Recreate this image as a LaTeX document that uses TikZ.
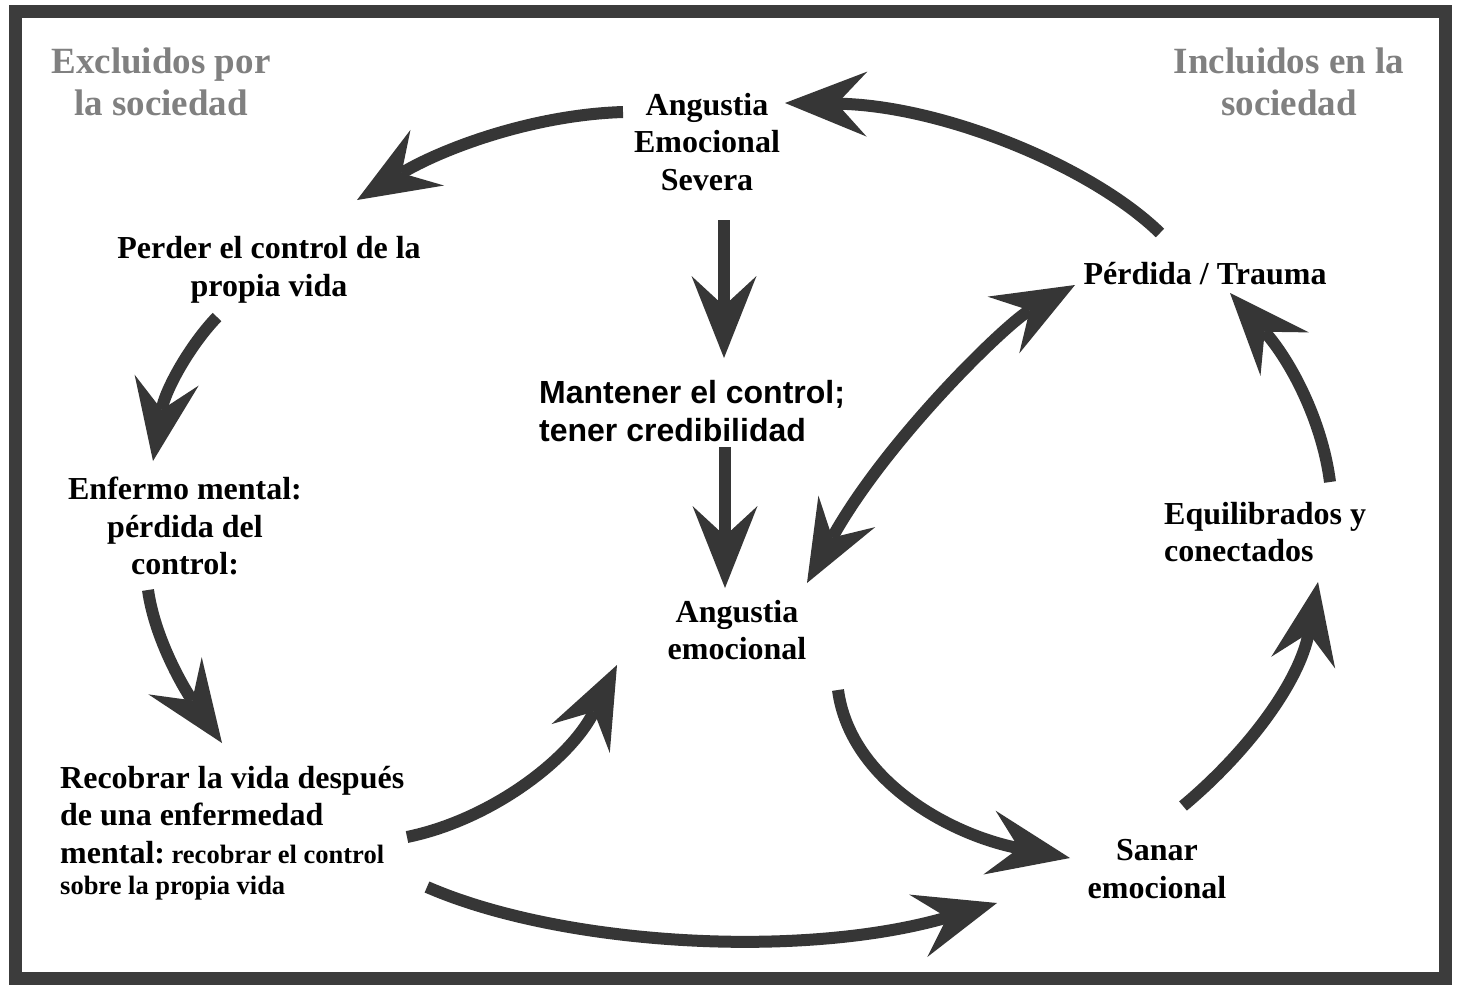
\documentclass[tikz,border=0pt]{standalone}
\usepackage{fontspec}
\setmainfont{Liberation Serif}
\newfontfamily\arialfont{Liberation Sans}
\usetikzlibrary{arrows.meta}
\definecolor{ink}{HTML}{363636}
\definecolor{framecol}{HTML}{3C3C3C}
\definecolor{soc}{HTML}{808080}
\tikzset{
  lbl/.style={font=\fontsize{32}{37.5}\selectfont\bfseries, inner sep=0pt, align=center, text=black},
  soclbl/.style={font=\fontsize{37}{42}\selectfont\bfseries, inner sep=0pt, align=center, text=soc},
  sanslbl/.style={font=\fontsize{32}{38.5}\selectfont\arialfont\bfseries, inner sep=0pt, align=left, text=black},
  bigtip/.tip={Stealth[length=82pt,width=65pt,inset=30pt,line width=0pt]},
  flow/.style={draw=ink, line width=12pt, -bigtip},
  twoway/.style={draw=ink, line width=12pt, bigtip-bigtip},
}
\begin{document}
\begin{tikzpicture}[x=1pt,y=-1pt]
\useasboundingbox (0,0) rectangle (1457,988);
\fill[white] (0,0) rectangle (1457,988);
\draw[framecol, line width=13pt] (15,11) rectangle (1445,978);

% labels
\node[soclbl] (excl) at (161,82) {Excluidos por\\la sociedad};
\node[soclbl] (incl) at (1289,82) {Incluidos en la\\sociedad};
\node[lbl] (sev) at (707,142) {Angustia\\Emocional\\Severa};
\node[lbl] (perder) at (269,270) {Perder el control de la\\propia vida};
\node[lbl] (enf) at (185,526) {Enfermo mental:\\pérdida del\\control:};
\node[sanslbl, anchor=west] (mant) at (539,411) {Mantener el control;\\tener credibilidad};
\node[lbl] (ang) at (737,630) {Angustia\\emocional};
\node[lbl, anchor=base] (trauma) at (1205,284) {Pérdida / Trauma};
\node[lbl, align=left, anchor=west] (equi) at (1164,532) {Equilibrados y\\conectados};
\node[lbl, align=left, anchor=west] (recob) at (60,833) {Recobrar la vida después\\de una enfermedad\\mental:{\fontsize{26.5}{31}\selectfont\ recobrar el control}\\[-6pt]{\fontsize{26.5}{31}\selectfont sobre la propia vida}};
\node[lbl] (sanar) at (1157,869) {Sanar\\emocional};

% connector end points
\coordinate (a1s) at (623,112);  \coordinate (a1e) at (357,200);
\coordinate (a2s) at (1160,233); \coordinate (a2e) at (785,103);
\coordinate (a3s) at (724,220);  \coordinate (a3e) at (724,358);
\coordinate (a4s) at (725,447);  \coordinate (a4e) at (725,588);
\coordinate (a5s) at (807,583);  \coordinate (a5e) at (1075,285);
\coordinate (a6s) at (217,317);  \coordinate (a6e) at (153,461);
\coordinate (a7s) at (148,590);  \coordinate (a7e) at (222,743);
\coordinate (a8s) at (407,837);  \coordinate (a8e) at (617,665);
\coordinate (a9s) at (427,887);  \coordinate (a9e) at (997,903);
\coordinate (a10s) at (838,690); \coordinate (a10e) at (1070,858);
\coordinate (a11s) at (1183,806); \coordinate (a11e) at (1318,582);
\coordinate (a12s) at (1330,482); \coordinate (a12e) at (1230,293);

% connectors
\draw[flow] (a1s) .. controls (530,115) and (440,150) .. (a1e);
\draw[flow] (a2s) .. controls (1090,165) and (940,105) .. (a2e);
\draw[flow] (a3s) -- (a3e);
\draw[flow] (a4s) -- (a4e);
\draw[twoway] (a5s) .. controls (887,439) and (1007,323) .. (a5e);
\draw[flow] (a6s) .. controls (190,345) and (165,390) .. (a6e);
\draw[flow] (a7s) .. controls (155,640) and (185,690) .. (a7e);
\draw[flow] (a8s) .. controls (490,820) and (570,760) .. (a8e);
\draw[flow] (a9s) .. controls (560,945) and (800,960) .. (a9e);
\draw[flow] (a10s) .. controls (850,780) and (950,835) .. (a10e);
\draw[flow] (a11s) .. controls (1250,750) and (1300,680) .. (a11e);
\draw[flow] (a12s) .. controls (1322,420) and (1290,360) .. (a12e);
\end{tikzpicture}
\end{document}
